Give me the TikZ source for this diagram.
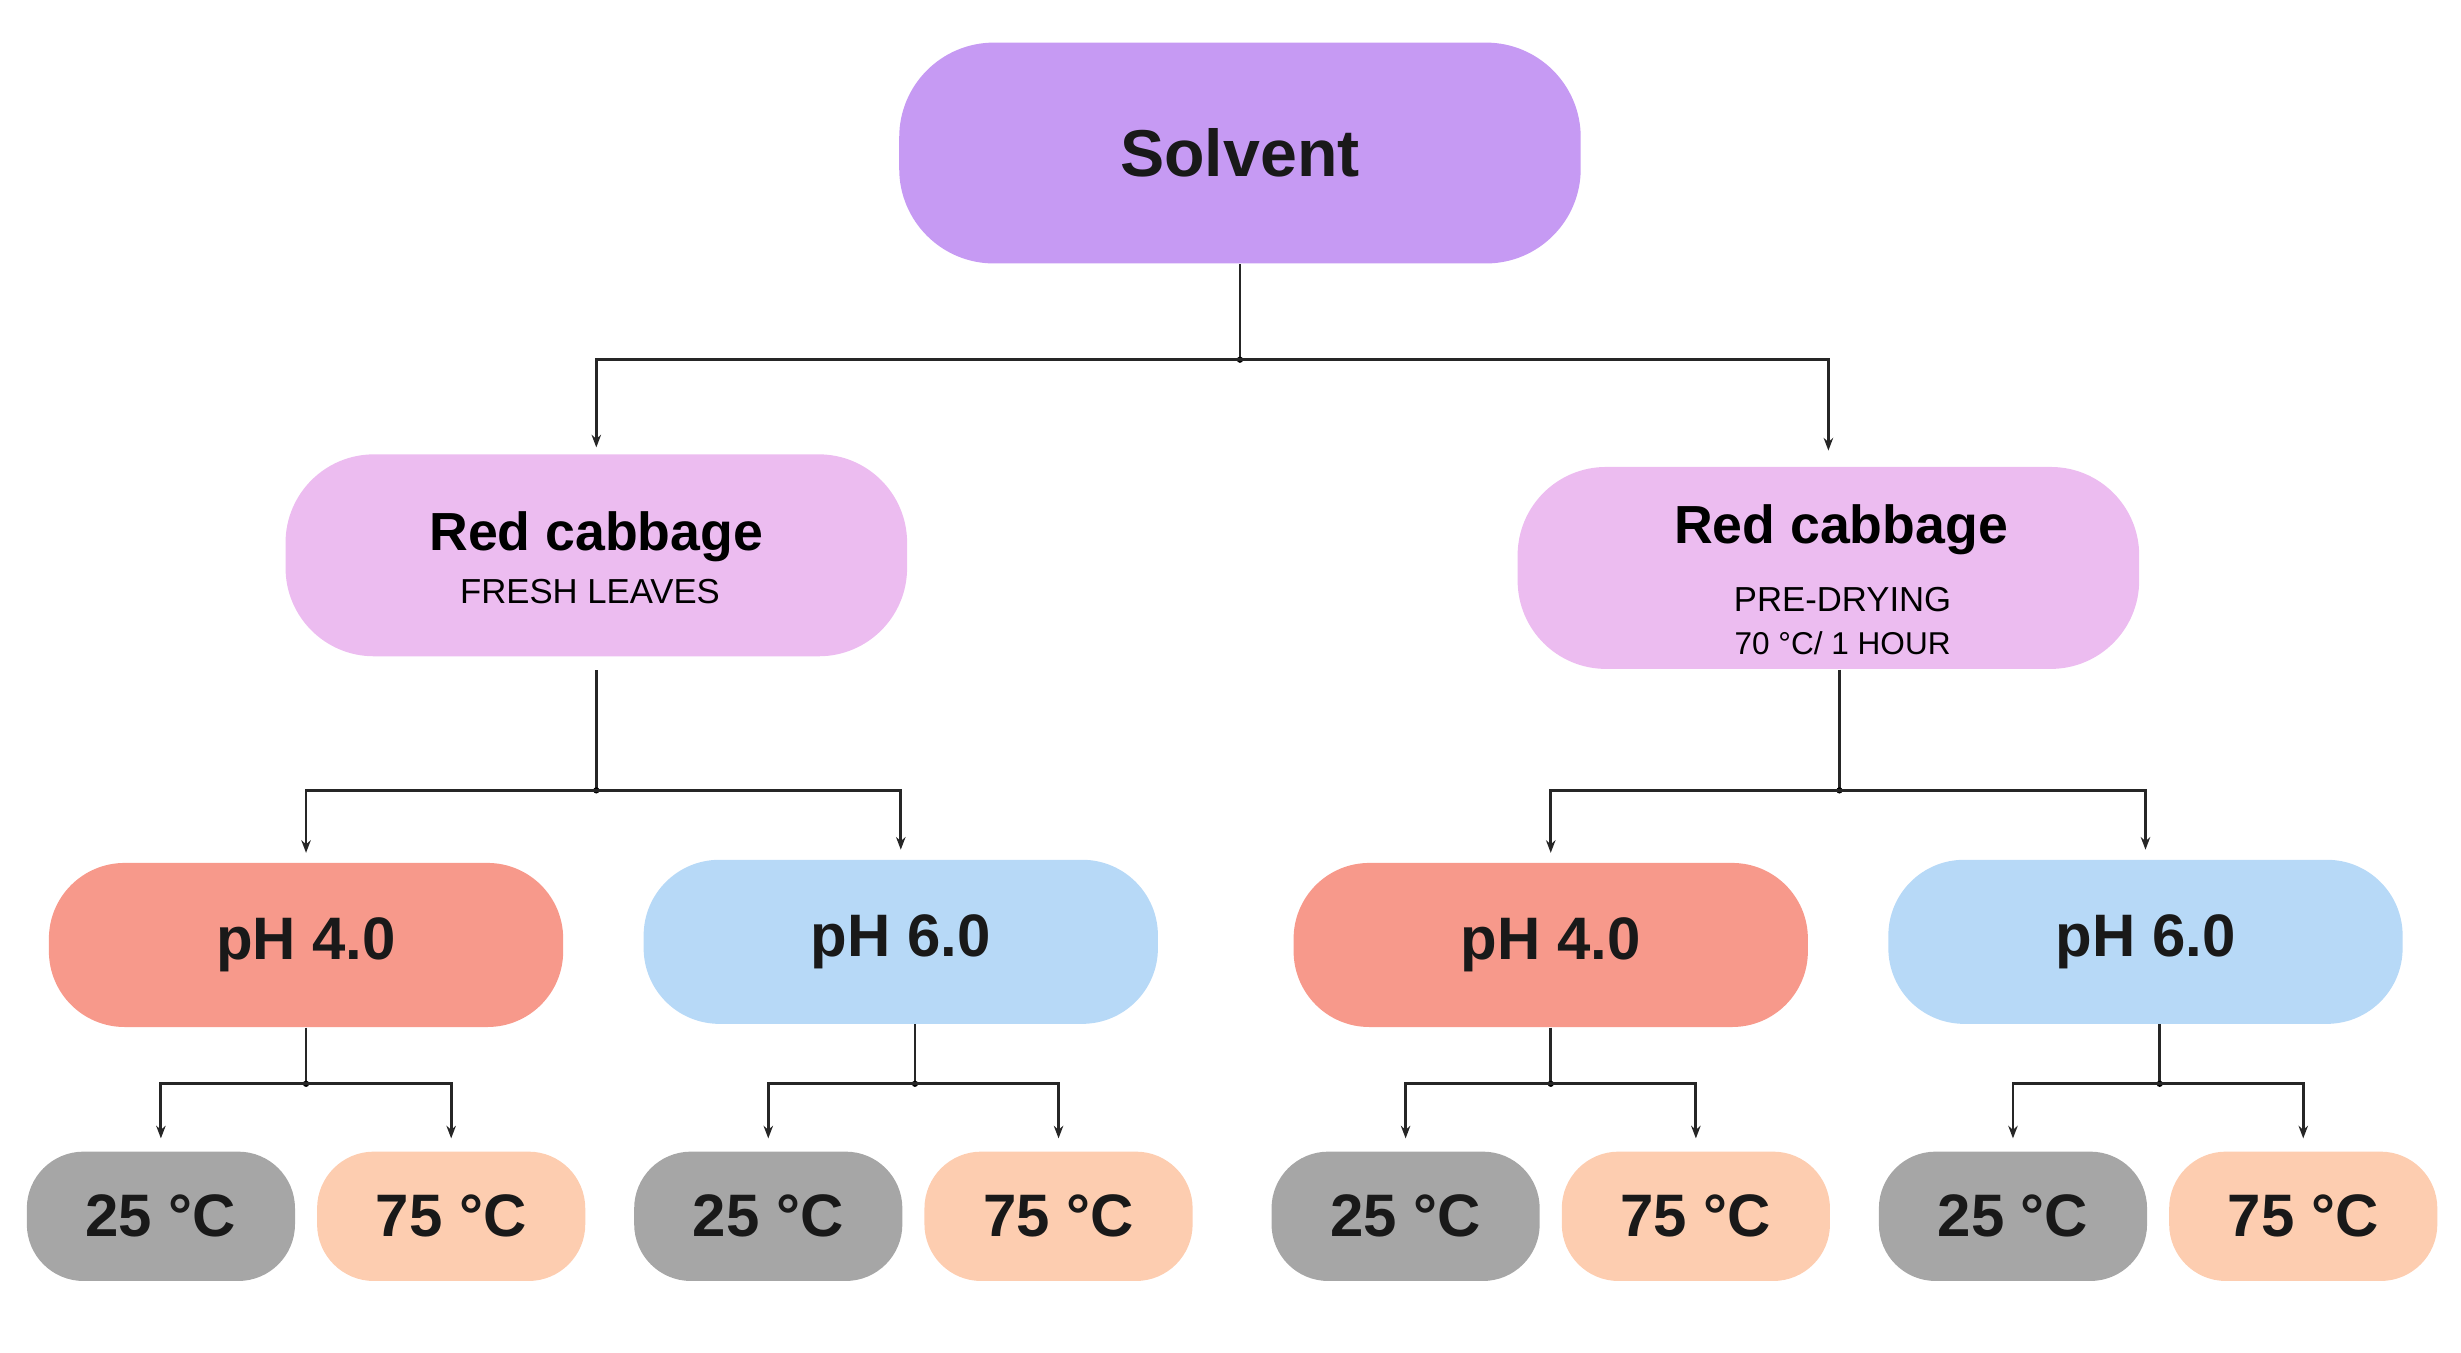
\documentclass[tikz,border=0pt]{standalone}
\usepackage{fontspec}
\setmainfont{Liberation Sans}
\usetikzlibrary{arrows.meta}
\definecolor{cSol}{HTML}{C69AF3}
\definecolor{cRC}{HTML}{ECBCF0}
\definecolor{cA}{HTML}{F7998B}
\definecolor{cB}{HTML}{B7D9F7}
\definecolor{cG}{HTML}{A6A6A6}
\definecolor{cP}{HTML}{FDCDB0}
\begin{document}
\begin{tikzpicture}[x=0.5pt,y=-0.5pt,
  box/.style={inner sep=0pt,align=center,text=black!90},
  sol/.style={box,fill=cSol,minimum width=216pt,minimum height=70pt,rounded corners=30pt,font=\fontsize{21}{24}\selectfont\bfseries},
  rc/.style={box,fill=cRC,minimum width=197pt,minimum height=64pt,rounded corners=28pt},
  ph/.style={box,minimum width=163pt,minimum height=52pt,rounded corners=24pt,font=\fontsize{19}{22}\selectfont\bfseries},
  tp/.style={box,minimum width=85pt,minimum height=41pt,rounded corners=18pt,font=\fontsize{19}{22}\selectfont\bfseries},
  con/.style={line width=0.9pt,black!85},
  arr/.style={con,-{Stealth[length=4pt,width=3pt]}},
  big/.style={font=\fontsize{17}{20}\selectfont\bfseries},
  sm/.style={font=\fontsize{11}{13}\selectfont},
  xs/.style={font=\fontsize{10}{12}\selectfont}]
\useasboundingbox (0,0) rectangle (1560,857.6);
\node[sol] (s) at (786,97) {Solvent};
\node[rc] (r1) at (378,352) {};
\node[big] (r1a) at (378,340) {Red cabbage};
\node[sm] (r1b) at (374,375) {FRESH LEAVES};
\node[rc] (r2) at (1159,360) {};
\node[big] (r2a) at (1167,336) {Red cabbage};
\node[sm] (r2b) at (1168,380) {PRE-DRYING};
\node[xs] (r2c) at (1168,408) {70 °C/ 1 HOUR};
\node[ph,fill=cA] (p1) at (194,599) {pH 4.0};
\node[ph,fill=cB] (p2) at (571,597) {pH 6.0};
\node[ph,fill=cA] (p3) at (983,599) {pH 4.0};
\node[ph,fill=cB] (p4) at (1360,597) {pH 6.0};
\node[tp,fill=cG] (t1) at (102,771) {25 °C};
\node[tp,fill=cP] (t2) at (286,771) {75 °C};
\node[tp,fill=cG] (t3) at (487,771) {25 °C};
\node[tp,fill=cP] (t4) at (671,771) {75 °C};
\node[tp,fill=cG] (t5) at (891,771) {25 °C};
\node[tp,fill=cP] (t6) at (1075,771) {75 °C};
\node[tp,fill=cG] (t7) at (1276,771) {25 °C};
\node[tp,fill=cP] (t8) at (1460,771) {75 °C};
% level 1
\coordinate (j0) at (786,228);
\draw[con] (s.south) -- (j0);
\fill (j0) circle (2);
\draw[arr,shorten >=2pt] (j0) -| (r1.north);
\draw[arr,shorten >=5pt] (j0) -| (r2.north);
% level 2
\coordinate (j1) at (378,501);
\coordinate (j2) at (1166,501);
\draw[con] (378,425) -- (j1);
\draw[con] (r2.south -| j2) -- (j2);
\fill (j1) circle (2); \fill (j2) circle (2);
\draw[arr,shorten >=3pt] (j1) -| (p1.north);
\draw[arr,shorten >=3pt] (j1) -| (p2.north);
\draw[arr,shorten >=3pt] (j2) -| (p3.north);
\draw[arr,shorten >=3pt] (j2) -| (p4.north);
% level 3
\foreach \p/\x/\a/\b in {p1/194/t1/t2,p2/580/t3/t4,p3/983/t5/t6,p4/1369/t7/t8}{
  \coordinate (k\p) at (\x,687);
  \draw[con] (\p.south -| k\p) -- (k\p);
  \fill (k\p) circle (2);
  \draw[arr,shorten >=4pt] (k\p) -| (\a.north);
  \draw[arr,shorten >=4pt] (k\p) -| (\b.north);
}
\end{tikzpicture}
\end{document}
